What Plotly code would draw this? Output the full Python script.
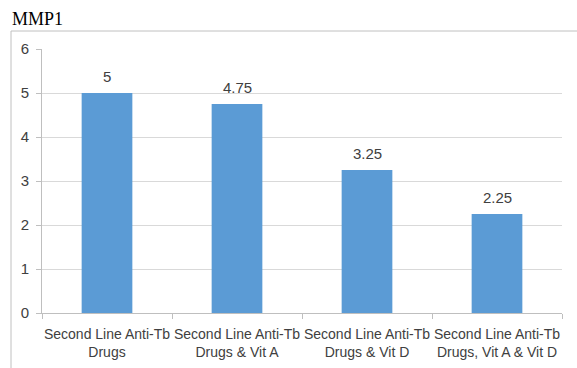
import plotly.graph_objects as go

categories = [
    "Second Line Anti-Tb<br>Drugs",
    "Second Line Anti-Tb<br>Drugs & Vit A",
    "Second Line Anti-Tb<br>Drugs & Vit D",
    "Second Line Anti-Tb<br>Drugs, Vit A & Vit D",
]
values = [5, 4.75, 3.25, 2.25]
y_ticks = [0, 1, 2, 3, 4, 5, 6]

bar_color = "#5B9BD5"
text_color = "#404040"
grid_color = "#d9d9d9"
axis_color = "#bfbfbf"
sans = "Liberation Sans"

fig = go.Figure(
    go.Bar(
        x=categories,
        y=values,
        marker=dict(color=bar_color, line=dict(width=0)),
        width=0.39,
        hoverinfo="x+y",
    )
)

# value labels sitting above each bar
value_labels = [
    dict(
        x=c, y=v, xref="x", yref="y",
        text=f"{v:g}",
        showarrow=False,
        yanchor="bottom",
        yshift=6,
        font=dict(family=sans, size=15, color=text_color),
    )
    for c, v in zip(categories, values)
]

fig.update_layout(
    width=577,
    height=368,
    margin=dict(l=42, r=15, t=49, b=55, autoexpand=False),
    paper_bgcolor="white",
    plot_bgcolor="white",
    showlegend=False,
    font=dict(family=sans, color=text_color),
    annotations=value_labels + [
        dict(
            text="MMP1",
            xref="paper", yref="paper",
            x=(10 - 42) / 520, y=1 + (49 - 19) / 264,
            xanchor="left", yanchor="middle",
            showarrow=False,
            font=dict(family="Liberation Serif", size=18, color="#000000"),
        )
    ],
    shapes=[
        # outer chart frame (runs off the right and bottom edges)
        dict(
            type="path", xref="paper", yref="paper",
            path=f"M 1.2 {1 + 18/264} L {(11 - 42)/520} {1 + 18/264} L {(11 - 42)/520} -0.4",
            line=dict(color="#c0c0c0", width=1),
        )
    ],
)

fig.update_xaxes(
    type="category",
    automargin=False,
    tickangle=0,
    showline=True,
    linecolor=axis_color,
    linewidth=1,
    ticks="outside",
    tickson="boundaries",
    ticklen=5,
    tickcolor=axis_color,
    ticklabelstandoff=8,
    tickfont=dict(family=sans, size=14, color=text_color),
    showgrid=False,
)

fig.update_yaxes(
    range=[0, 6],
    automargin=False,
    tickvals=y_ticks,
    showline=True,
    linecolor=axis_color,
    linewidth=1,
    ticks="outside",
    ticklen=5,
    tickcolor=axis_color,
    ticklabelstandoff=4,
    showgrid=True,
    gridcolor=grid_color,
    gridwidth=1,
    zeroline=False,
    tickfont=dict(family=sans, size=15, color=text_color),
)

fig.write_html("out.html")
